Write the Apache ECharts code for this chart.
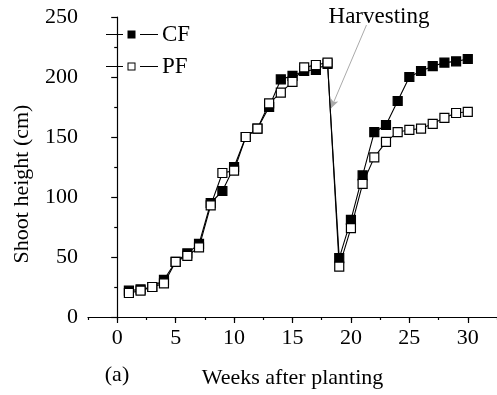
<!DOCTYPE html>
<html>
<head>
<meta charset="utf-8">
<script src="https://cdn.jsdelivr.net/npm/echarts@6/dist/echarts.min.js"></script>
<style>html,body{margin:0;padding:0;background:#fff}#c{width:497px;height:395px}</style>
</head>
<body>
<div id="c"></div>
<script>
var weeks = [1,2,3,4,5,6,7,8,9,10,11,12,13,14,15,16,17,18,19,20,21,22,23,24,25,26,27,28,29,30];
var cfValues = [22,23,25,31,46,53,61,95,105,125,150,157,175,198,201,205,206,211,49,81,118,154,160,180,200,205,209,212,213,215];
var pfValues = [20,22,25,28,46,51,58,93,120,122,150,157,178,187,196,208,210,212,42,74,111,133,146,154,156,157,161,166,170,171];
var xTickLabels = [0,5,10,15,20,25,30];
var seriesNames = ['CF','PF'];
var arrowFrom = [21.33, 243.3];
var arrowTo = [18.3, 173.9];

var FONT = '"Liberation Serif", "Times New Roman", serif';
function pairs(vals){ return weeks.map(function(w,i){ return [w, vals[i]]; }); }
function legendIcon(fill){
  var svg = '<svg xmlns="http://www.w3.org/2000/svg" width="52" height="10" viewBox="0 0 52 10">' +
    '<line x1="0" y1="5" x2="17" y2="5" stroke="#000" stroke-width="1"/>' +
    '<rect x="22" y="1.5" width="7" height="7" fill="' + fill + '" stroke="#000" stroke-width="1"/>' +
    '<line x1="34" y1="5" x2="52" y2="5" stroke="#000" stroke-width="1"/>' +
    '</svg>';
  return 'image://data:image/svg+xml;charset=utf-8,' + encodeURIComponent(svg);
}

var chart = echarts.init(document.getElementById('c'), null, {renderer:'canvas'});
chart.setOption({
  animation: false,
  backgroundColor: '#fff',
  grid: {left: 88, right: -1, top: 17, bottom: 78, containLabel: false},
  legend: {
    orient: 'vertical', left: 101, top: 18, itemWidth: 52, itemHeight: 10, itemGap: 9,
    textStyle: {fontFamily: FONT, fontSize: 23, color: '#000', padding: [0,0,0,-1]},
    data: [
      {name: seriesNames[0], icon: legendIcon('#000')},
      {name: seriesNames[1], icon: legendIcon('#fff')}
    ]
  },
  xAxis: [{
    type: 'value', min: -2.5, max: 32.5,
    name: 'Weeks after planting', nameLocation: 'middle', nameGap: 50,
    nameTextStyle: {fontFamily: FONT, fontSize: 22, color: '#000'},
    axisLine: {show: true, onZero: false, lineStyle: {color: '#000', width: 1.2}},
    axisTick: {show: true, length: 6, customValues: xTickLabels, lineStyle: {color: '#000', width: 1.2}},
    axisLabel: {show: true, customValues: xTickLabels, margin: 10, fontFamily: FONT, fontSize: 22, color: '#000'},
    splitLine: {show: false}
  },{
    type: 'value', min: -2.5, max: 32.5, interval: 2.5, position: 'bottom',
    axisLine: {show: false},
    axisTick: {show: true, length: 3, lineStyle: {color: '#000', width: 1.2}},
    axisLabel: {show: false},
    splitLine: {show: false}
  }],
  yAxis: {
    type: 'value', min: 0, max: 250, interval: 50,
    axisLine: {show: true, lineStyle: {color: '#000', width: 1.2}},
    axisTick: {show: true, length: 6, lineStyle: {color: '#000', width: 1.2}},
    minorTick: {show: true, splitNumber: 2, length: 3, lineStyle: {color: '#000', width: 1.2}},
    axisLabel: {margin: 10, fontFamily: FONT, fontSize: 22, color: '#000'},
    splitLine: {show: false}
  },
  graphic: [
    {type: 'text', x: 22, y: 184, rotation: Math.PI/2,
     style: {text: 'Shoot height (cm)', font: '22px ' + FONT, fill: '#000', align: 'center', verticalAlign: 'middle'}},
    {type: 'text', x: 117, y: 375,
     style: {text: '(a)', font: '22px ' + FONT, fill: '#000', align: 'center', verticalAlign: 'middle'}},
    {type: 'text', x: 379, y: 17,
     style: {text: 'Harvesting', font: '23px ' + FONT, fill: '#000', align: 'center', verticalAlign: 'middle'}}
  ],
  series: [{
    name: seriesNames[0], type: 'line', data: pairs(cfValues),
    symbol: 'rect', symbolSize: 9,
    lineStyle: {color: '#000', width: 1.1},
    itemStyle: {color: '#000', borderColor: '#000', borderWidth: 1.2},
    markLine: {
      silent: true, animation: false, symbol: ['none','arrow'], symbolSize: [6, 9],
      label: {show: false},
      lineStyle: {color: '#aaa', width: 1, type: 'solid'},
      data: [[{coord: arrowFrom}, {coord: arrowTo}]]
    }
  },{
    name: seriesNames[1], type: 'line', data: pairs(pfValues),
    symbol: 'rect', symbolSize: 9,
    lineStyle: {color: '#000', width: 1.1},
    itemStyle: {color: '#fff', borderColor: '#000', borderWidth: 1.2}
  }]
});
</script>
</body>
</html>
